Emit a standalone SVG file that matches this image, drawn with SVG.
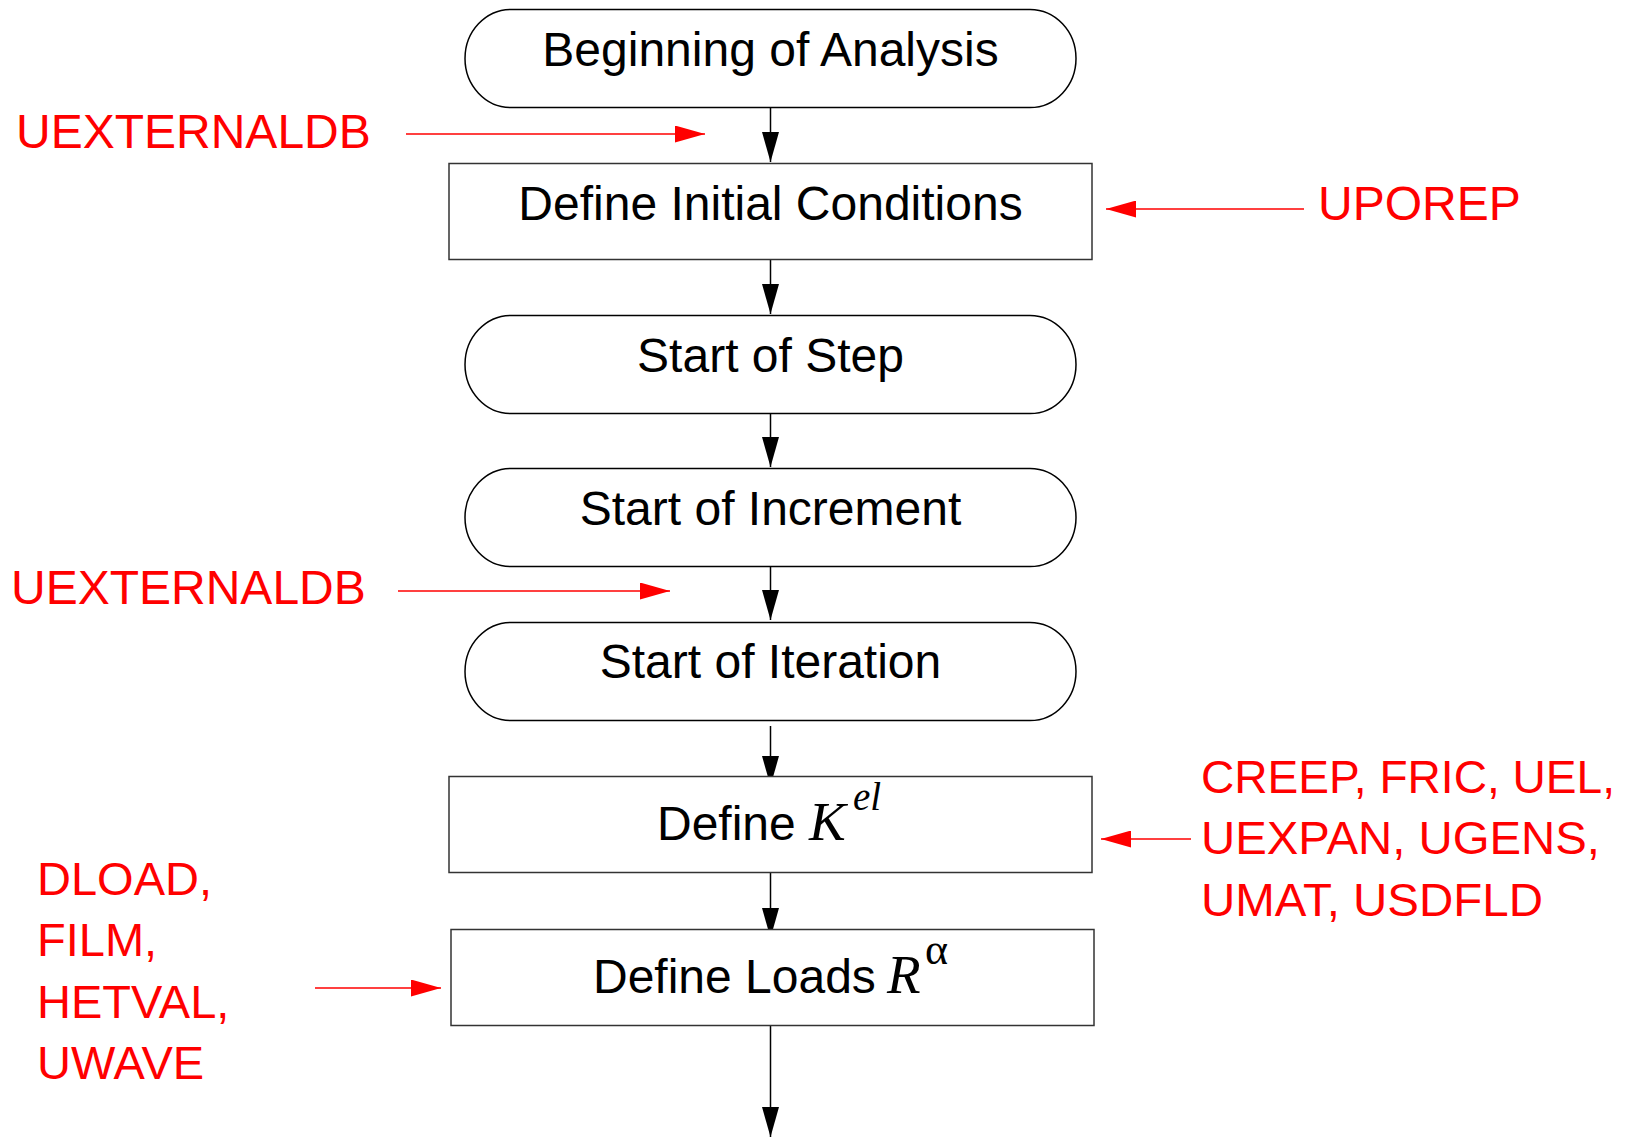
<svg xmlns="http://www.w3.org/2000/svg" width="1631" height="1138" viewBox="0 0 1631 1138">
<style>
.pill{fill:#fff;stroke:#000;stroke-width:1.5}
.box{fill:#fff;stroke:#333;stroke-width:1.5}
.t{font-family:"Liberation Sans",Arial,sans-serif;font-size:48px;fill:#000;text-anchor:middle}
.ts{font-family:"Liberation Sans",Arial,sans-serif;font-size:48px;fill:#000}
.m{font-family:"Liberation Serif","Times New Roman",serif;font-style:italic}
.r{font-family:"Liberation Sans",Arial,sans-serif;font-size:48px;fill:#ff0000}
.rb{font-family:"Liberation Sans",Arial,sans-serif;font-size:47px;fill:#ff0000}
.c{stroke:#000;stroke-width:1.5;fill:none}
.rc{stroke:#ff0000;stroke-width:1.5;fill:none}
</style>
<defs>
<marker id="ab" markerUnits="userSpaceOnUse" markerWidth="30" markerHeight="17" refX="30" refY="8.5" orient="auto" viewBox="0 0 30 17"><path d="M0,0 L30,8.5 L0,17 z" fill="#000"/></marker>
<marker id="ar" markerUnits="userSpaceOnUse" markerWidth="30" markerHeight="17" refX="30" refY="8.5" orient="auto" viewBox="0 0 30 17"><path d="M0,0 L30,8.5 L0,17 z" fill="#ff0000"/></marker>
</defs>
<rect width="1631" height="1138" fill="#fff"/>
<g id="connectors">
<line class="c" x1="770.5" y1="107" x2="770.5" y2="162" marker-end="url(#ab)"/>
<line class="c" x1="770.5" y1="259" x2="770.5" y2="314" marker-end="url(#ab)"/>
<line class="c" x1="770.5" y1="414" x2="770.5" y2="467" marker-end="url(#ab)"/>
<line class="c" x1="770.5" y1="567" x2="770.5" y2="620" marker-end="url(#ab)"/>
<line class="c" x1="770.5" y1="726" x2="770.5" y2="786" marker-end="url(#ab)"/>
<line class="c" x1="770.5" y1="868" x2="770.5" y2="938" marker-end="url(#ab)"/>
<line class="c" x1="770.5" y1="1025" x2="770.5" y2="1137" marker-end="url(#ab)"/>
<line class="rc" x1="406" y1="134" x2="705" y2="134" marker-end="url(#ar)"/>
<line class="rc" x1="1304" y1="209" x2="1106" y2="209" marker-end="url(#ar)"/>
<line class="rc" x1="398" y1="591" x2="670" y2="591" marker-end="url(#ar)"/>
<line class="rc" x1="1191" y1="839" x2="1101" y2="839" marker-end="url(#ar)"/>
<line class="rc" x1="315" y1="988" x2="441" y2="988" marker-end="url(#ar)"/>
</g>
<g id="n-begin"><rect class="pill" x="465" y="9.5" width="611" height="98" rx="46" ry="49"/><text class="t" x="770.5" y="66">Beginning of Analysis</text></g>
<g id="n-init"><rect class="box" x="449" y="163.5" width="643" height="96"/><text class="t" x="770.5" y="220">Define Initial Conditions</text></g>
<g id="n-step"><rect class="pill" x="465" y="315.5" width="611" height="98" rx="46" ry="49"/><text class="t" x="770.5" y="372">Start of Step</text></g>
<g id="n-incr"><rect class="pill" x="465" y="468.5" width="611" height="98" rx="46" ry="49"/><text class="t" x="770.5" y="525">Start of Increment</text></g>
<g id="n-iter"><rect class="pill" x="465" y="622.5" width="611" height="98" rx="46" ry="49"/><text class="t" x="770.5" y="678">Start of Iteration</text></g>
<g id="n-kel"><rect class="box" x="449" y="776.5" width="643" height="96"/><text class="ts" x="657" y="840">Define <tspan class="m" x="809" font-size="55">K</tspan><tspan class="m" x="853" y="810" font-size="39">el</tspan></text></g>
<g id="n-loads"><rect class="box" x="451" y="929.5" width="643" height="96"/><text class="ts" x="593" y="993">Define Loads <tspan class="m" x="887" font-size="55">R</tspan><tspan x="925" y="964" font-family="Liberation Serif,serif" font-size="44">α</tspan></text></g>
<g id="labels">
<text class="r" x="16" y="148">UEXTERNALDB</text>
<text class="r" x="1318" y="220">UPOREP</text>
<text class="r" x="11" y="604">UEXTERNALDB</text>
<text class="rb" x="1201" y="793" textLength="414" lengthAdjust="spacingAndGlyphs">CREEP, FRIC, UEL,</text>
<text class="rb" x="1201" y="854" textLength="399" lengthAdjust="spacingAndGlyphs">UEXPAN, UGENS,</text>
<text class="rb" x="1201" y="916" textLength="342" lengthAdjust="spacingAndGlyphs">UMAT, USDFLD</text>
<text class="rb" x="37" y="895">DLOAD,</text>
<text class="rb" x="37" y="956">FILM,</text>
<text class="rb" x="37" y="1018">HETVAL,</text>
<text class="rb" x="37" y="1079">UWAVE</text>
</g>
</svg>
